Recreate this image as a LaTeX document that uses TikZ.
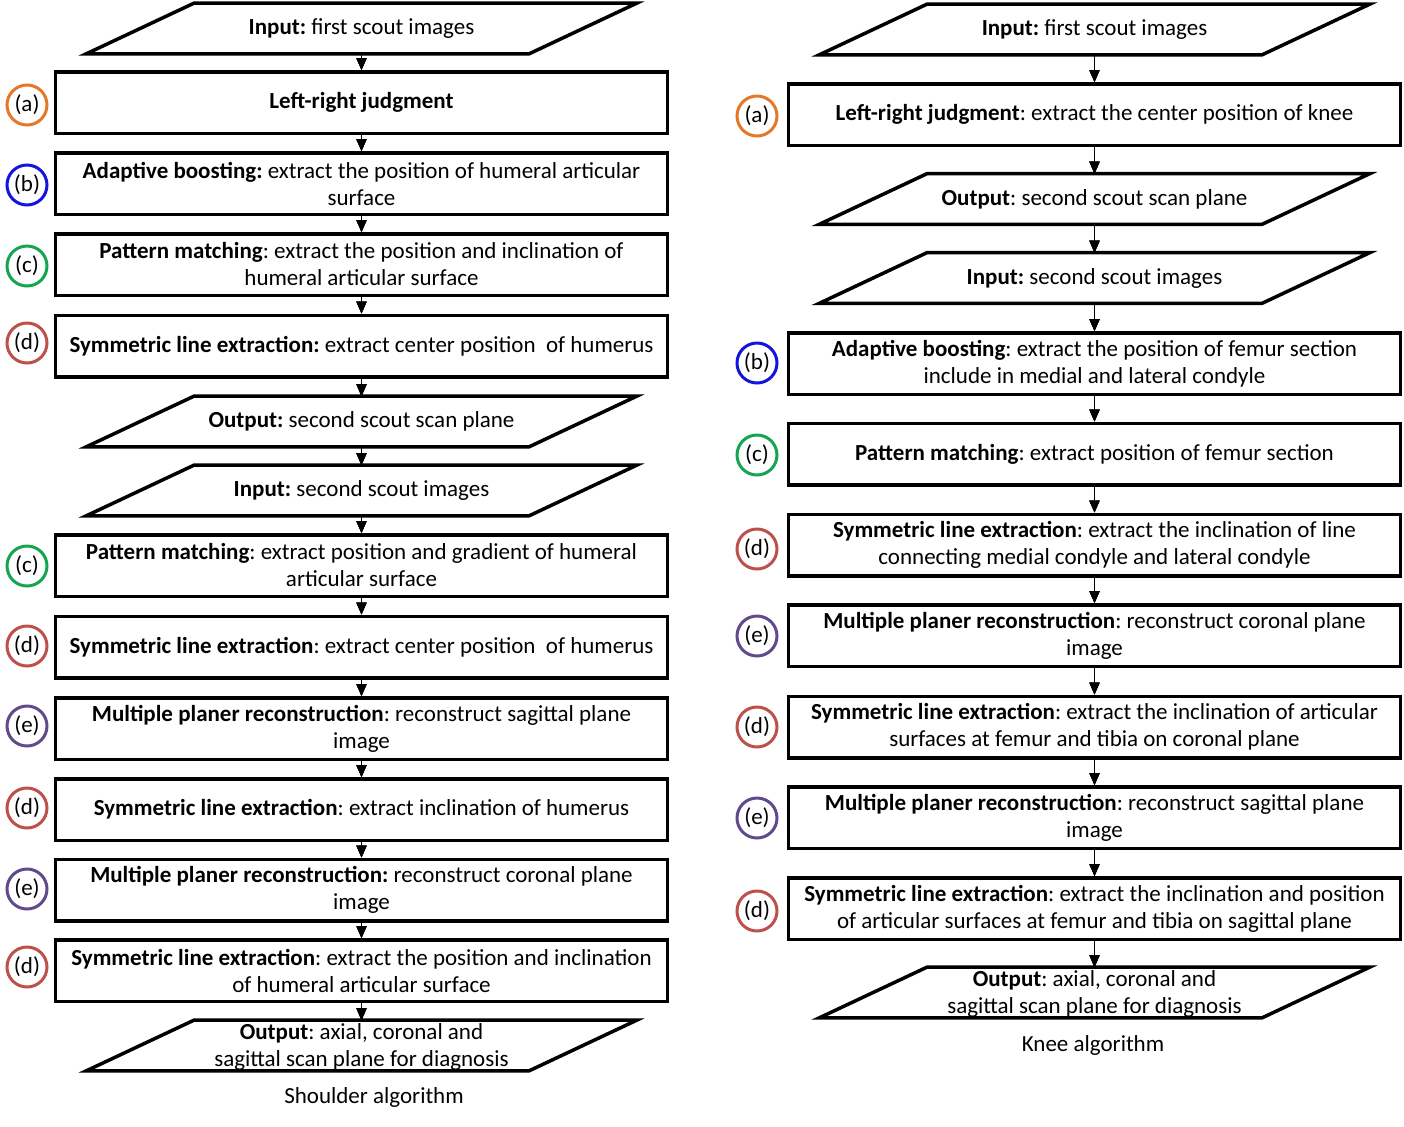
\documentclass[tikz,border=0pt]{standalone}
\usepackage{fontspec}
\setmainfont{Carlito}
\usetikzlibrary{arrows.meta}
\frenchspacing

\definecolor{cOrange}{RGB}{228,120,40}
\definecolor{cBleu}{RGB}{20,20,225}
\definecolor{cVert}{RGB}{20,165,80}
\definecolor{cRouge}{RGB}{190,80,75}
\definecolor{cViolet}{RGB}{95,75,140}

% cadre en parallélogramme autour d'un noeud "entree"
\newcommand{\cadreES}[1]{%
    \draw[line width=1.75pt] ([xshift=-27pt]#1.south west) -- ([xshift=27pt]#1.north west)
        -- ([xshift=27pt]#1.north east) -- ([xshift=-27pt]#1.south east) -- cycle;}

\tikzset{
    etape/.style={draw, line width=1.75pt, minimum width=306pt, minimum height=30.75pt,
        align=center, inner sep=0pt, font=\fontsize{11.5}{13.5}\selectfont},
    entree/.style={minimum width=221pt, minimum height=25pt, inner sep=0pt, align=center,
        font=\fontsize{11.5}{13.5}\selectfont},
    texte/.style={align=center, inner sep=0pt, font=\fontsize{11.5}{13.5}\selectfont},
    fleche/.style={-{Triangle[length=6pt,width=5pt]}, line width=0.75pt},
    marque/.style={draw=#1, circle, line width=1.5pt, minimum size=20pt, inner sep=0pt,
        font=\fontsize{11.5}{13.5}\selectfont},
}

\begin{document}
\begin{tikzpicture}[x=0.5pt, y=-0.5pt]
    \useasboundingbox (0,0) rectangle (1404,1126);

    % --- Colonne de gauche : épaule ---
    \node[entree] (sIn1) at (361.5,28.5) {\textbf{Input:} first scout images};
    \node[etape] (sA) at (361.5,102.5) {\textbf{Left-right judgment}};
    \node[etape] (sB) at (361.5,183.5) {\textbf{Adaptive boosting:} extract the position of humeral articular\\surface};
    \node[etape] (sC) at (361.5,264.5) {\textbf{Pattern matching}: extract the position and inclination of\\humeral articular surface};
    \node[etape] (sD) at (361.5,346) {\textbf{Symmetric line extraction:} extract center position~ of humerus};
    \node[entree] (sOut2) at (361.5,421.5) {\textbf{Output:} second scout scan plane};
    \node[entree] (sIn2) at (361.5,490.5) {\textbf{Input:} second scout images};
    \node[etape] (sC2) at (361.5,565.5) {\textbf{Pattern matching}: extract position and gradient of humeral\\articular surface};
    \node[etape] (sD2) at (361.5,647) {\textbf{Symmetric line extraction}: extract center position~ of humerus};
    \node[etape] (sE) at (361.5,728.5) {\textbf{Multiple planer reconstruction}: reconstruct sagittal plane\\image};
    \node[etape] (sD3) at (361.5,809.5) {\textbf{Symmetric line extraction}: extract inclination of humerus};
    \node[etape] (sE2) at (361.5,890) {\textbf{Multiple planer reconstruction:} reconstruct coronal plane\\image};
    \node[etape] (sD4) at (361.5,970.5) {\textbf{Symmetric line extraction}: extract the position and inclination\\of humeral articular surface};
    \node[entree, text height=0pt, text depth=0pt] (sOut) at (361.5,1045.5) {};
    \node[texte] (sOutTxt) at (361.5,1046.5) {\textbf{Output}: axial, coronal and\\sagittal scan plane for diagnosis};
    \node[texte] (sTitre) at (374,1097) {Shoulder algorithm};

    \foreach \n in {sIn1, sOut2, sIn2, sOut}
        \cadreES{\n}
    \foreach \de/\vers in {sIn1/sA, sA/sB, sB/sC, sC/sD, sD/sOut2, sOut2/sIn2, sIn2/sC2,
        sC2/sD2, sD2/sE, sE/sD3, sD3/sE2, sE2/sD4, sD4/sOut}
        \draw[fleche] (\de) -- (\vers);

    % marques
    \node[marque=cOrange] (msA) at (27,105) {(a)};
    \node[marque=cBleu] (msB) at (27,185) {(b)};
    \node[marque=cVert] (msC) at (27,266) {(c)};
    \node[marque=cRouge] (msD) at (27,343) {(d)};
    \node[marque=cVert] (msC2) at (27,566) {(c)};
    \node[marque=cRouge] (msD2) at (27,646) {(d)};
    \node[marque=cViolet] (msE) at (27,726) {(e)};
    \node[marque=cRouge] (msD3) at (27,808) {(d)};
    \node[marque=cViolet] (msE2) at (27,889) {(e)};
    \node[marque=cRouge] (msD4) at (27,967) {(d)};

    % --- Colonne de droite : genou ---
    \node[entree] (kIn1) at (1094.5,29.5) {\textbf{Input:} first scout images};
    \node[etape] (kA) at (1094.5,114.5) {\textbf{Left-right judgment}: extract the center position of knee};
    \node[entree] (kOut2) at (1094.5,199) {\textbf{Output}: second scout scan plane};
    \node[entree] (kIn2) at (1094.5,278) {\textbf{Input:} second scout images};
    \node[etape] (kB) at (1094.5,363.5) {\textbf{Adaptive boosting}: extract the position of femur section\\include in medial and lateral condyle};
    \node[etape] (kC) at (1094.5,454) {\textbf{Pattern matching}: extract position of femur section};
    \node[etape] (kD) at (1094.5,545) {\textbf{Symmetric line extraction}: extract the inclination of line\\connecting medial condyle and lateral condyle};
    \node[etape] (kE) at (1094.5,635.5) {\textbf{Multiple planer reconstruction}: reconstruct coronal plane\\image};
    \node[etape] (kD2) at (1094.5,727) {\textbf{Symmetric line extraction}: extract the inclination of articular\\surfaces at femur and tibia on coronal plane};
    \node[etape] (kE2) at (1094.5,817.5) {\textbf{Multiple planer reconstruction}: reconstruct sagittal plane\\image};
    \node[etape] (kD3) at (1094.5,908.5) {\textbf{Symmetric line extraction}: extract the inclination and position\\of articular surfaces at femur and tibia on sagittal plane};
    \node[entree, text height=0pt, text depth=0pt] (kOut) at (1094.5,992.5) {};
    \node[texte] (kOutTxt) at (1094.5,993.5) {\textbf{Output}: axial, coronal and\\sagittal scan plane for diagnosis};
    \node[texte] (kTitre) at (1093,1045) {Knee algorithm};

    \foreach \n in {kIn1, kOut2, kIn2, kOut}
        \cadreES{\n}
    \foreach \de/\vers in {kIn1/kA, kA/kOut2, kOut2/kIn2, kIn2/kB, kB/kC, kC/kD,
        kD/kE, kE/kD2, kD2/kE2, kE2/kD3, kD3/kOut}
        \draw[fleche] (\de) -- (\vers);

    % marques
    \node[marque=cOrange] (mkA) at (757,116) {(a)};
    \node[marque=cBleu] (mkB) at (757,363) {(b)};
    \node[marque=cVert] (mkC) at (757,455) {(c)};
    \node[marque=cRouge] (mkD) at (757,549) {(d)};
    \node[marque=cViolet] (mkE) at (757,636) {(e)};
    \node[marque=cRouge] (mkD2) at (757,727) {(d)};
    \node[marque=cViolet] (mkE2) at (757,818) {(e)};
    \node[marque=cRouge] (mkD3) at (757,911) {(d)};
\end{tikzpicture}
\end{document}
